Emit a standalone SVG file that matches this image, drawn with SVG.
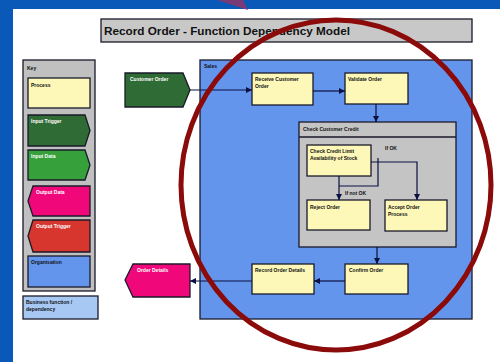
<svg xmlns="http://www.w3.org/2000/svg" width="500" height="362" viewBox="0 0 500 362">
<defs>
<marker id="ah" viewBox="0 0 10 10" refX="10" refY="5" markerWidth="5" markerHeight="5" orient="auto"><path d="M0,0 L10,5 L0,10 z" fill="#0a1040"/></marker>
<style>
.bx{stroke:#1a1a2a;stroke-width:1.3}
.proc{fill:#fdf8b8}
.t{font-family:"Liberation Sans",Arial,sans-serif;font-weight:bold;font-size:5px;fill:#111}
.tw{font-family:"Liberation Sans",Arial,sans-serif;font-weight:bold;font-size:5px;fill:#fff}
.c{fill:none;stroke:#0a1040;stroke-width:1.2}
</style>
</defs>
<rect x="0" y="0" width="500" height="362" fill="#0a58b8"/>
<rect x="13" y="9" width="487" height="353" fill="#fff"/>
<polygon points="217,0 243,0 248,10" fill="#7a3a78"/>

<g id="title">
<rect x="101" y="19" width="371" height="23" fill="#c8c8c8" class="bx"/>
<text x="104" y="35" font-family="Liberation Sans,Arial,sans-serif" font-weight="bold" font-size="10.5" fill="#111" textLength="246" lengthAdjust="spacingAndGlyphs">Record Order - Function Dependency Model</text>
</g>

<g id="legend">
<rect x="23" y="60" width="72" height="231" fill="#c0c0c0" class="bx"/>
<text x="27" y="70" class="t">Key</text>
<rect x="28" y="78" width="62" height="30" class="bx proc"/>
<text x="31" y="87" class="t">Process</text>
<polygon points="28,115 85,115 90,130.5 85,146 28,146" fill="#2f6b34" class="bx"/>
<text x="31" y="123" class="tw">Input Trigger</text>
<polygon points="28,150 85,150 90,165 85,180 28,180" fill="#36a03a" class="bx"/>
<text x="31" y="158" class="tw">Input Data</text>
<polygon points="33,186 90,186 90,216 33,216 28,201" fill="#f0087a" class="bx"/>
<text x="36" y="194" class="tw">Output Data</text>
<polygon points="33,220 90,220 90,252 33,252 28,236" fill="#d7362f" class="bx"/>
<text x="36" y="228" class="tw">Output Trigger</text>
<rect x="28" y="256" width="62" height="31" fill="#6495ed" class="bx"/>
<text x="31" y="264" class="t">Organisation</text>
</g>

<g id="note">
<rect x="23" y="296" width="75" height="23" fill="#a8c8f4" class="bx"/>
<text x="26" y="304" class="t">Business function /</text>
<text x="26" y="311" class="t">dependency</text>
</g>

<g id="org">
<rect x="200" y="60" width="272" height="259" fill="#6495ed" class="bx"/>
<text x="204" y="68" class="t">Sales</text>
</g>

<g id="container">
<rect x="299" y="122" width="157" height="125" fill="#c4c4c4" class="bx"/>
<line x1="299" y1="137" x2="456" y2="137" class="bx"/>
<text x="303" y="131" class="t">Check Customer Credit</text>
</g>

<g id="input">
<polygon points="125,73 183,73 190,90 183,107 125,107" fill="#2f6b34" class="bx"/>
<text x="130" y="81" class="tw">Customer Order</text>
</g>
<g id="output">
<polygon points="133,264 190,264 190,297 133,297 125,280" fill="#f0087a" class="bx"/>
<text x="137" y="272" class="tw">Order Details</text>
</g>

<g id="nodeA"><rect x="252" y="73" width="61" height="32" class="bx proc"/><text x="255" y="81" class="t">Receive Customer</text><text x="255" y="88" class="t">Order</text></g>
<g id="nodeB"><rect x="345" y="73" width="63" height="31" class="bx proc"/><text x="348" y="81" class="t">Validate Order</text></g>
<g id="nodeC"><rect x="307" y="145" width="64" height="31" class="bx proc"/><text x="310" y="153" class="t">Check Credit Limit</text><text x="310" y="160" class="t">Availability of Stock</text></g>
<g id="nodeD"><rect x="307" y="200" width="63" height="30" class="bx proc"/><text x="310" y="209" class="t">Reject Order</text></g>
<g id="nodeE"><rect x="385" y="200" width="62" height="31" class="bx proc"/><text x="388" y="209" class="t">Accept Order</text><text x="388" y="216" class="t">Process</text></g>
<g id="nodeF"><rect x="345" y="264" width="63" height="30" class="bx proc"/><text x="349" y="272" class="t">Confirm Order</text></g>
<g id="nodeG"><rect x="252" y="264" width="62" height="30" class="bx proc"/><text x="255" y="272" class="t">Record Order Details</text></g>

<g id="connectors">
<line x1="190" y1="90" x2="252" y2="90" class="c" marker-end="url(#ah)"/>
<line x1="313" y1="91" x2="345" y2="91" class="c" marker-end="url(#ah)"/>
<line x1="376" y1="104" x2="376" y2="122" class="c" marker-end="url(#ah)"/>
<line x1="339" y1="176" x2="339" y2="200" class="c" marker-end="url(#ah)"/>
<polyline points="378,158 378,186 339,186" class="c"/>
<polyline points="371,162 417,162 417,200" class="c" marker-end="url(#ah)"/>
<line x1="377" y1="247" x2="377" y2="264" class="c" marker-end="url(#ah)"/>
<line x1="345" y1="281" x2="314" y2="281" class="c" marker-end="url(#ah)"/>
<line x1="252" y1="281" x2="190" y2="281" class="c" marker-end="url(#ah)"/>
<text x="385" y="150" class="t">If OK</text>
<text x="345" y="195" class="t">If not OK</text>
</g>

<ellipse cx="336" cy="185" rx="155" ry="165" fill="none" stroke="#8b0a0a" stroke-width="5"/>
</svg>
